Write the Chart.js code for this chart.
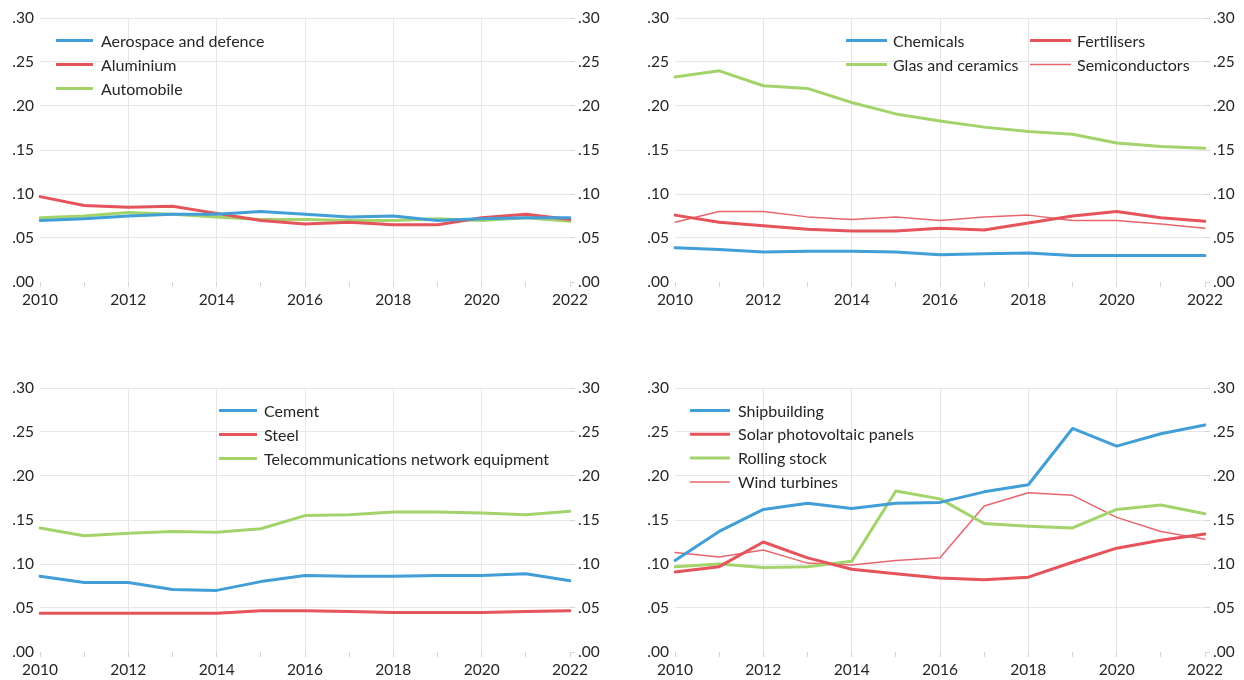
<!DOCTYPE html>
<html>
<head>
<meta charset="utf-8">
<script src="https://cdn.jsdelivr.net/npm/chart.js@4.4.1/dist/chart.umd.min.js"></script>
<style>
  html, body { margin: 0; padding: 0; background: #ffffff; }
  #wrap { position: relative; width: 1244px; height: 680px; overflow: hidden; background: #ffffff; }
  .panel { position: absolute; width: 622px; height: 310px; }
  .panel canvas { display: block; }
</style>
</head>
<body>
<div id="wrap">
  <div class="panel" style="left:0;top:0"><canvas id="c1" width="622" height="310"></canvas></div>
  <div class="panel" style="left:622px;top:0"><canvas id="c2" width="622" height="310"></canvas></div>
  <div class="panel" style="left:0;top:370px"><canvas id="c3" width="622" height="310"></canvas></div>
  <div class="panel" style="left:622px;top:370px"><canvas id="c4" width="622" height="310"></canvas></div>
</div>
<script>
// ---- data ----
const years = [2010, 2011, 2012, 2013, 2014, 2015, 2016, 2017, 2018, 2019, 2020, 2021, 2022];
const yTicks = [0, 0.05, 0.10, 0.15, 0.20, 0.25, 0.30];

// Aerospace, aluminium, automobile
const aerospace  = [0.070, 0.072, 0.075, 0.077, 0.077, 0.080, 0.077, 0.074, 0.075, 0.070, 0.072, 0.073, 0.073];
const aluminium  = [0.097, 0.087, 0.085, 0.086, 0.078, 0.070, 0.066, 0.068, 0.065, 0.065, 0.073, 0.077, 0.071];
const automobile = [0.073, 0.075, 0.079, 0.077, 0.074, 0.071, 0.071, 0.070, 0.070, 0.072, 0.070, 0.073, 0.069];

// Chemicals, glass, fertilisers, semiconductors
const chemicals      = [0.039, 0.037, 0.034, 0.035, 0.035, 0.034, 0.031, 0.032, 0.033, 0.030, 0.030, 0.030, 0.030];
const glasCeramics   = [0.233, 0.240, 0.223, 0.220, 0.204, 0.191, 0.183, 0.176, 0.171, 0.168, 0.158, 0.154, 0.152];
const fertilisers    = [0.076, 0.068, 0.064, 0.060, 0.058, 0.058, 0.061, 0.059, 0.067, 0.075, 0.080, 0.073, 0.069];
const semiconductors = [0.068, 0.080, 0.080, 0.074, 0.071, 0.074, 0.070, 0.074, 0.076, 0.070, 0.070, 0.066, 0.061];

// Cement, steel, telecom equipment
const cement   = [0.086, 0.079, 0.079, 0.071, 0.070, 0.080, 0.087, 0.086, 0.086, 0.087, 0.087, 0.089, 0.081];
const steel    = [0.044, 0.044, 0.044, 0.044, 0.044, 0.047, 0.047, 0.046, 0.045, 0.045, 0.045, 0.046, 0.047];
const telecom  = [0.141, 0.132, 0.135, 0.137, 0.136, 0.140, 0.155, 0.156, 0.159, 0.159, 0.158, 0.156, 0.160];

// Shipbuilding, solar PV, rolling stock, wind turbines
const shipbuilding = [0.104, 0.137, 0.162, 0.169, 0.163, 0.169, 0.170, 0.182, 0.190, 0.254, 0.234, 0.248, 0.258];
const solarPV      = [0.091, 0.097, 0.125, 0.107, 0.094, 0.089, 0.084, 0.082, 0.085, 0.102, 0.118, 0.127, 0.134];
const rollingStock = [0.097, 0.100, 0.096, 0.097, 0.103, 0.183, 0.174, 0.146, 0.143, 0.141, 0.162, 0.167, 0.157];
const windTurbines = [0.113, 0.108, 0.116, 0.101, 0.099, 0.104, 0.107, 0.166, 0.181, 0.178, 0.153, 0.137, 0.128];

// ---- styling ----
const BLUE = '#419ED7';
const RED = '#E5535B';
const RED_THIN = '#E6666D';
const GREEN = '#A3D36B';
const GRID = '#E6E6E6';
const TICK = '#D4D4D4';
const TXT = '#262626';
const FAMILY = 'Lato, "Open Sans", "DejaVu Sans", sans-serif';
const FONT = { family: FAMILY, size: 15.5 };
const LEGEND_FONT = '16px ' + FAMILY;

function fmtTick(v) {
  const n = Math.round(v * 100);
  return '.' + String(n).padStart(2, '0');
}

function line(label, data, color, width) {
  return {
    label, data,
    borderColor: color, backgroundColor: color,
    borderWidth: width, pointRadius: 0, pointHoverRadius: 0,
    tension: 0, fill: false,
    borderJoinStyle: 'round', borderCapStyle: 'round'
  };
}

// Legend drawn inside the plot, in columns of `rows` entries
const innerLegend = {
  id: 'innerLegend',
  afterDraw(chart, args, opts) {
    const ctx = chart.ctx;
    ctx.save();
    ctx.font = LEGEND_FONT;
    ctx.textBaseline = 'middle';
    ctx.textAlign = 'left';
    chart.data.datasets.forEach((ds, i) => {
      const col = Math.floor(i / opts.rows);
      const row = i % opts.rows;
      const x = opts.x + col * opts.colW;
      const y = opts.y + row * opts.rowH;
      ctx.strokeStyle = ds.borderColor;
      ctx.lineWidth = ds.borderWidth;
      ctx.lineCap = 'butt';
      ctx.beginPath();
      ctx.moveTo(x, y);
      ctx.lineTo(x + opts.lineLen, y);
      ctx.stroke();
      ctx.fillStyle = TXT;
      ctx.fillText(ds.label, x + opts.lineLen + opts.gap, y + 1);
    });
    ctx.restore();
  }
};

function makeScales(leftW, rightW) {
  const last = years.length - 1;
  return {
    x: {
      type: 'category',
      offset: false,
      border: { display: false },
      grid: {
        color: c => (c.index > 0 && c.index < last && years[c.index] % 2 === 0) ? GRID : 'rgba(0,0,0,0)',
        tickColor: TICK,
        tickLength: 5,
        lineWidth: 1
      },
      ticks: {
        autoSkip: false, maxRotation: 0, minRotation: 0,
        padding: 4, color: TXT, font: FONT,
        callback: (v, i) => (years[i] % 2 === 0 ? String(years[i]) : '')
      },
      afterFit: s => { s.height = 28; }
    },
    y: {
      position: 'left',
      min: 0, max: 0.30,
      border: { display: false },
      grid: {
        color: c => (c.tick && c.tick.value === 0 ? 'rgba(0,0,0,0)' : GRID),
        drawTicks: false,
        lineWidth: 1
      },
      ticks: { stepSize: 0.05, padding: 6, color: TXT, font: FONT, callback: fmtTick },
      afterBuildTicks: s => { s.ticks = yTicks.map(v => ({ value: v })); },
      afterFit: s => { s.width = leftW; }
    },
    y2: {
      position: 'right',
      min: 0, max: 0.30,
      border: { display: false },
      grid: { drawOnChartArea: false, drawTicks: true, tickLength: 5, tickColor: TICK },
      ticks: { stepSize: 0.05, padding: 3, color: TXT, font: FONT, callback: fmtTick },
      afterBuildTicks: s => { s.ticks = yTicks.map(v => ({ value: v })); },
      afterFit: s => { s.width = rightW; }
    }
  };
}

function makeChart(id, datasets, leftW, rightW, legend) {
  return new Chart(document.getElementById(id), {
    type: 'line',
    data: { labels: years.map(String), datasets },
    options: {
      responsive: false,
      animation: false,
      devicePixelRatio: 1,
      layout: { padding: { top: 18, bottom: 0, left: 0, right: 0 } },
      plugins: {
        legend: { display: false },
        tooltip: { enabled: false },
        innerLegend: legend
      },
      scales: makeScales(leftW, rightW)
    },
    plugins: [innerLegend]
  });
}

function drawAll() {
  makeChart('c1', [
    line('Aerospace and defence', aerospace, BLUE, 3),
    line('Aluminium', aluminium, RED, 3),
    line('Automobile', automobile, GREEN, 3)
  ], 40, 52, { x: 56, y: 40.5, rows: 3, rowH: 24, colW: 0, lineLen: 37, gap: 8 });

  makeChart('c2', [
    line('Chemicals', chemicals, BLUE, 3),
    line('Glas and ceramics', glasCeramics, GREEN, 3),
    line('Fertilisers', fertilisers, RED, 3),
    line('Semiconductors', semiconductors, RED_THIN, 1.5)
  ], 53, 39, { x: 224, y: 40.5, rows: 2, rowH: 24, colW: 184, lineLen: 41, gap: 6 });

  makeChart('c3', [
    line('Cement', cement, BLUE, 3),
    line('Steel', steel, RED, 3),
    line('Telecommunications network equipment', telecom, GREEN, 3)
  ], 40, 52, { x: 219, y: 40.5, rows: 3, rowH: 24, colW: 0, lineLen: 38, gap: 7 });

  makeChart('c4', [
    line('Shipbuilding', shipbuilding, BLUE, 3),
    line('Solar photovoltaic panels', solarPV, RED, 3),
    line('Rolling stock', rollingStock, GREEN, 3),
    line('Wind turbines', windTurbines, RED_THIN, 1.5)
  ], 53, 39, { x: 68, y: 40.5, rows: 4, rowH: 23.8, colW: 0, lineLen: 40, gap: 8 });
}

if (document.fonts && document.fonts.load) {
  document.fonts.load('16px Lato').then(drawAll, drawAll);
} else {
  drawAll();
}
</script>
</body>
</html>
